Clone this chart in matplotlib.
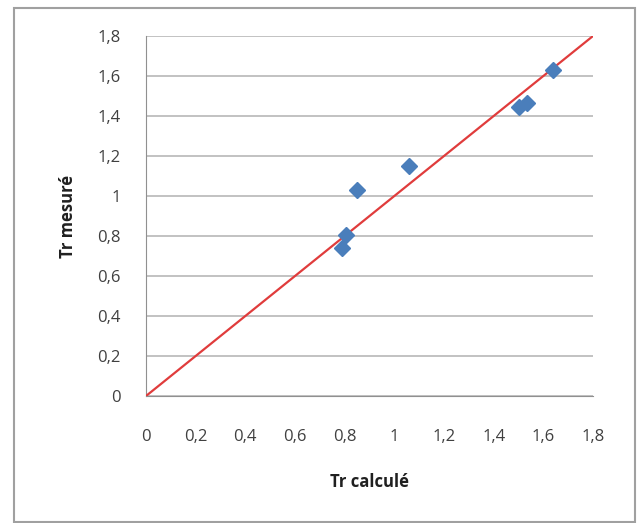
import matplotlib
matplotlib.use("Agg")
import matplotlib.pyplot as plt
from matplotlib.patches import Rectangle

tr_calcule = [0.79, 0.805, 0.85, 1.06, 1.50, 1.535, 1.64]
tr_mesure = [0.74, 0.805, 1.03, 1.15, 1.445, 1.465, 1.63]
line_x = [0.0, 1.8]
line_y = [0.0, 1.8]
ticks = [0, 0.2, 0.4, 0.6, 0.8, 1.0, 1.2, 1.4, 1.6, 1.8]
tick_labels = ["0", "0,2", "0,4", "0,6", "0,8", "1", "1,2", "1,4", "1,6", "1,8"]

plt.rcParams['font.family'] = ['Open Sans', 'DejaVu Sans']
W, H = 641, 523
fig = plt.figure(figsize=(W/100, H/100), dpi=100)
fig.patches.append(Rectangle((14/W, 1/H), 621/W, 514/H, transform=fig.transFigure,
                             fill=False, edgecolor='#a0a0a0', linewidth=1.5))
ax = fig.add_axes([146/W, 1-396/H, (593-146)/W, (396-36)/H])
ax.set_xlim(0, 1.8)
ax.set_ylim(0, 1.8)
ax.set_xticks(ticks)
ax.set_xticklabels(tick_labels)
ax.set_yticks(ticks)
ax.set_yticklabels(tick_labels)
ax.grid(axis='y', color='#b8b8b8', linewidth=1.2)
ax.set_axisbelow(True)
for s in ['top', 'right']:
    ax.spines[s].set_visible(False)
ax.spines['left'].set_color('#909090')
ax.spines['bottom'].set_color('#909090')
ax.tick_params(length=0, labelsize=12, colors='#404040')
ax.tick_params(axis='y', pad=18)
ax.tick_params(axis='x', pad=24)
ax.plot(line_x, line_y, color='#e03c3c', linewidth=1.6, zorder=3)
ax.plot(tr_calcule, tr_mesure, linestyle='none', marker='D', markersize=8.5,
        color='#4a7ebb', zorder=4)
ax.set_xlabel("Tr calculé", fontsize=12, fontweight='bold', labelpad=20, color='#202020')
ax.set_ylabel("Tr mesuré", fontsize=12, fontweight='bold', labelpad=15, color='#202020')
fig.savefig("out.png", dpi=100)
